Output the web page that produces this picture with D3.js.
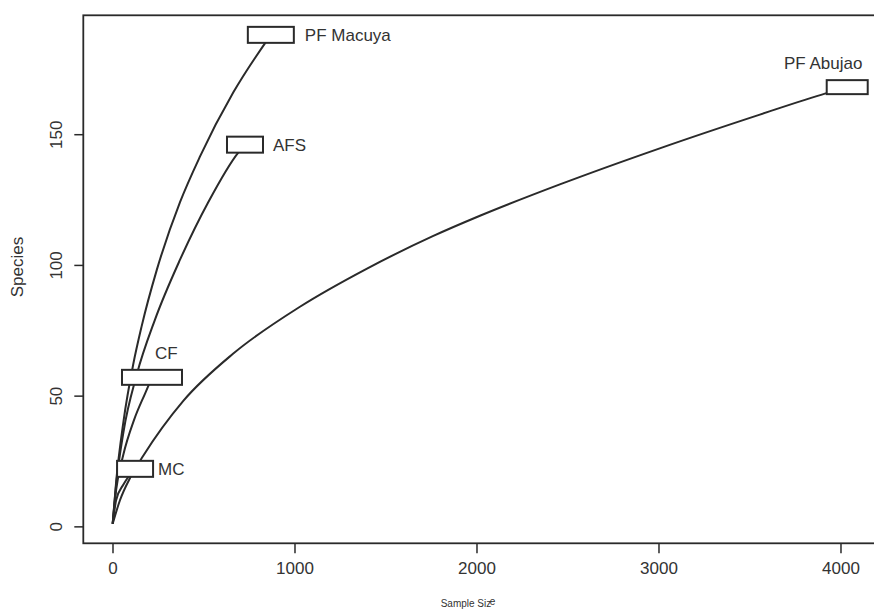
<!DOCTYPE html>
<html>
<head>
<meta charset="utf-8">
<script src="https://cdn.jsdelivr.net/npm/d3@7"></script>
<style>
  body { margin: 0; background: #fff; }
  text { font-family: "Liberation Sans", Arial, sans-serif; fill: #333; }
</style>
</head>
<body>
<svg id="chart" width="874" height="611"></svg>
<script>
// Rarefaction curves: [sample size, expected species]
const macuyaCurve = [[1,1],[20,17],[60,40],[114,62],[160,76.5],[243,98],[371,124],[481,141.5],[664,166],[870,188]];
const afsCurve    = [[1,1],[20,16],[60,36],[133,58],[233,79],[371,102],[526,124],[691,143],[728,146]];
const abujaoCurve = [[1,1],[41,10],[100,19],[169,27],[389,48],[662,66],[1030,84],[1396,98.5],[1760,111],[2019,118.8],[2458,130.8],[3007,144.6],[3557,157.5],[3923,165.7],[4037,168]];
const cfCurve     = [[1,1],[20,14],[58,27],[120,41],[180,51],[217,57]];
const mcCurve     = [[1,1],[20,10],[60,16],[124,22]];

const siteNames = ["PF Macuya", "AFS", "PF Abujao", "CF", "MC"];
const siteCurves = [macuyaCurve, afsCurve, abujaoCurve, cfCurve, mcCurve];

const xTicks = [0, 1000, 2000, 3000, 4000];
const yTicks = [0, 50, 100, 150];

// Label placement: end-of-curve box size, text offset from box centre, anchor
const labelLayout = {
  "PF Macuya": { boxW: 46, boxH: 16, dx: 34,  dy: 0,   anchor: "start" },
  "AFS":       { boxW: 36, boxH: 16, dx: 28,  dy: 0,   anchor: "start" },
  "PF Abujao": { boxW: 41, boxH: 14, dx: -24, dy: -24, anchor: "middle" },
  "CF":        { boxW: 60, boxH: 15, dx: 3,   dy: -24, anchor: "start" },
  "MC":        { boxW: 36, boxH: 16, dx: 23,  dy: 0,   anchor: "start" }
};

const svg = d3.select("#chart");

// Plot region with 4% padding around the data range
const allPts = siteCurves.flat();
const xExt = d3.extent(allPts, d => d[0]);
const yExt = d3.extent(allPts, d => d[1]);
const xPad = (xExt[1] - xExt[0]) * 0.04;
const yPad = (yExt[1] - yExt[0]) * 0.04;
const plot = { left: 83.3, right: 876.6, top: 15.3, bottom: 543.3 };

const x = d3.scaleLinear().domain([xExt[0] - xPad, xExt[1] + xPad]).range([plot.left, plot.right]);
const y = d3.scaleLinear().domain([yExt[0] - yPad, yExt[1] + yPad]).range([plot.bottom, plot.top]);

const ink = "#2a2a2a";

// Frame
svg.append("rect")
  .attr("x", plot.left).attr("y", plot.top)
  .attr("width", plot.right - plot.left).attr("height", plot.bottom - plot.top)
  .attr("fill", "none").attr("stroke", ink).attr("stroke-width", 1.8);

// X axis
const xAxis = svg.append("g").attr("transform", `translate(0,${plot.bottom})`)
  .call(d3.axisBottom(x).tickValues(xTicks).tickSize(10).tickFormat(d3.format("d")));
xAxis.select(".domain").remove();
xAxis.selectAll("line").attr("stroke", ink).attr("stroke-width", 1.5);
xAxis.selectAll("text").attr("font-size", 17).attr("dy", "1.05em").attr("fill", "#333");

// Y axis (rotated tick labels)
const yAxis = svg.append("g").attr("transform", `translate(${plot.left},0)`)
  .call(d3.axisLeft(y).tickValues(yTicks).tickSize(9).tickFormat(d3.format("d")));
yAxis.select(".domain").remove();
yAxis.selectAll("line").attr("stroke", ink).attr("stroke-width", 1.5);
yAxis.selectAll("text")
  .attr("font-size", 17).attr("fill", "#333")
  .attr("x", null).attr("dy", null)
  .attr("text-anchor", "middle")
  .attr("transform", "translate(-21,0) rotate(-90)");

// Axis titles
svg.append("text")
  .attr("transform", "translate(23,267) rotate(-90)")
  .attr("text-anchor", "middle").attr("font-size", 17)
  .text("Species");

const xTitle = svg.append("text")
  .attr("x", 468).attr("y", 607)
  .attr("text-anchor", "middle").attr("font-size", 10);
xTitle.append("tspan").text("Sample Siz");
xTitle.append("tspan").attr("dx", -1.5).attr("dy", -2).text("e");

// Curves
const line = d3.line()
  .x(d => x(d[0])).y(d => y(d[1]))
  .curve(d3.curveMonotoneX);

svg.append("g").selectAll("path")
  .data(siteCurves)
  .join("path")
  .attr("d", line)
  .attr("fill", "none")
  .attr("stroke", ink)
  .attr("stroke-width", 2);

// End-of-curve boxes and site labels
siteNames.forEach((name, i) => {
  const end = siteCurves[i][siteCurves[i].length - 1];
  const cx = x(end[0]), cy = y(end[1]);
  const lay = labelLayout[name];
  svg.append("rect")
    .attr("x", cx - lay.boxW / 2).attr("y", cy - lay.boxH / 2)
    .attr("width", lay.boxW).attr("height", lay.boxH)
    .attr("fill", "#fff").attr("stroke", ink).attr("stroke-width", 2);
  svg.append("text")
    .attr("x", cx + lay.dx).attr("y", cy + lay.dy)
    .attr("dy", "0.36em")
    .attr("text-anchor", lay.anchor)
    .attr("font-size", 17)
    .text(name);
});
</script>
</body>
</html>
